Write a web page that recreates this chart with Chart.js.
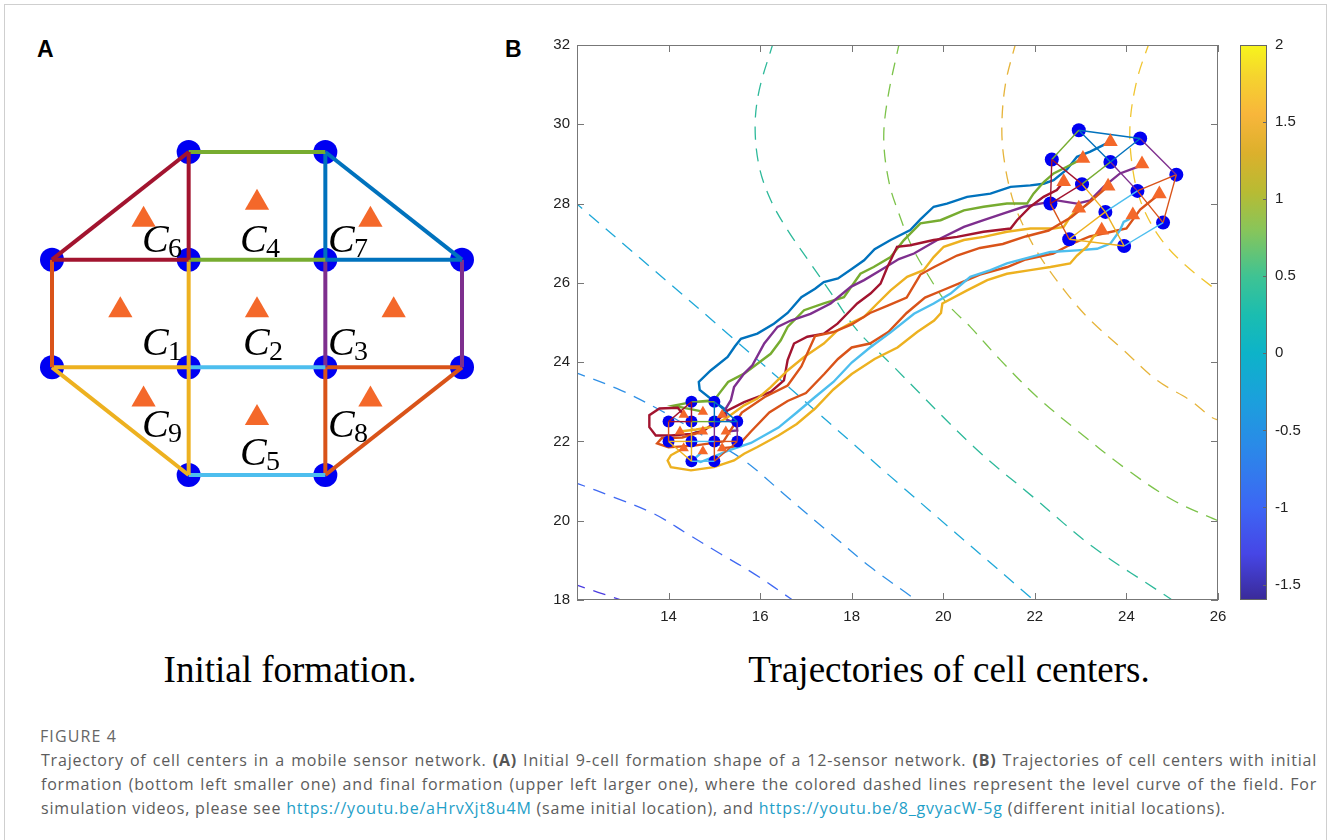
<!DOCTYPE html>
<html>
<head>
<meta charset="utf-8">
<script src="https://cdn.jsdelivr.net/npm/chart.js@4.4.1/dist/chart.umd.min.js"></script>
<style>
  body { margin: 0; background: #fff; width: 1328px; height: 840px; overflow: hidden; position: relative; font-family: 'Liberation Sans', Arial, sans-serif; }
  .frame { position: absolute; left: 4px; top: 4px; width: 1323px; height: 900px; border: 1px solid #cfcfcf; box-sizing: border-box; }
  .tag { position: absolute; font: bold 23px 'Liberation Sans', Arial, sans-serif; color: #000; line-height: 1; }
  .box { position: absolute; }
  .sub { position: absolute; font: 37px 'Liberation Serif', 'Times New Roman', serif; color: #000; line-height: 1; white-space: nowrap; transform: translateX(-50%); }
  #figno { position: absolute; left: 40px; top: 726px; font: 16px 'Open Sans', sans-serif; line-height: 20px; color: #666; letter-spacing: 1.1px; }
  #caption { position: absolute; left: 41px; top: 748px; width: 1276px; font: 16px 'Open Sans', sans-serif; line-height: 24px; color: #5c5c5c; letter-spacing: 0.8px; }
  #caption .ln { white-space: nowrap; }
  #caption .just { text-align: justify; text-align-last: justify; }
  #caption b { font-weight: 700; color: #555; }
  #caption a { color: #1fa0c8; text-decoration: none; }
</style>
</head>
<body>
<div class="frame"></div>
<div class="tag" style="left:37px;top:38px">A</div>
<div class="tag" style="left:505px;top:38px">B</div>

<div class="box" style="left:11px;top:109px;width:492px;height:409px"><canvas id="formation" width="492" height="409"></canvas></div>
<div class="box" style="left:520px;top:35px;width:712px;height:600px"><canvas id="paths" width="712" height="600"></canvas></div>
<div class="box" style="left:1230px;top:35px;width:90px;height:575px"><canvas id="cbar" width="90" height="575"></canvas></div>

<div class="sub" style="left:290px;top:651px">Initial formation.</div>
<div class="sub" style="left:949px;top:651px">Trajectories of cell centers.</div>

<div id="figno">FIGURE 4</div>
<div id="caption">
  <div class="ln just">Trajectory of cell centers in a mobile sensor network. <b>(A)</b> Initial 9-cell formation shape of a 12-sensor network. <b>(B)</b> Trajectories of cell centers with initial</div>
  <div class="ln just">formation (bottom left smaller one) and final formation (upper left larger one), where the colored dashed lines represent the level curve of the field. For</div>
  <div class="ln">simulation videos, please see <a>https://youtu.be/aHrvXjt8u4M</a> (same initial location), and <a>https://youtu.be/8_gvyacW-5g</a> (different initial locations).</div>
</div>

<script>
// ---------- panel A (grid units) ----------
const gridNodes = [[1,3],[2,3],[0,2],[1,2],[2,2],[3,2],[0,1],[1,1],[2,1],[3,1],[1,0],[2,0]];
const gridCenters = [[0.5,1.53],[1.5,1.53],[2.5,1.53],[1.5,2.53],[1.5,0.53],[0.67,2.37],[2.33,2.37],[2.33,0.7],[0.67,0.7]];
const cellNumbers = ['1','2','3','4','5','6','7','8','9'];
const gridLabelAt = [[0.658,1.114],[1.397,1.114],[2.02,1.114],[1.375,2.07],[1.375,0.093],[0.658,2.07],[2.02,2.07],[2.02,0.356],[0.658,0.356]];

// sensor links (node indexes), grouped by the colour they are drawn in
const linksRed = [[2,0],[0,3],[3,2]];
const linksGreen = [[0,1],[3,4]];
const linksBlue = [[1,5],[5,4],[4,1]];
const linksOrangeL = [[2,6]];
const linksYellow = [[6,7],[6,10],[3,7],[7,10]];
const linksCyan = [[7,8],[10,11]];
const linksPurple = [[4,8],[5,9]];
const linksOrangeR = [[8,9],[9,11],[8,11]];

// ---------- panel B (field units) ----------
const startNodes = [[14.5,23.0],[15.0,23.0],[14.0,22.5],[14.5,22.5],[15.0,22.5],[15.5,22.5],[14.0,22.0],[14.5,22.0],[15.0,22.0],[15.5,22.0],[14.5,21.5],[15.0,21.5]];
const finalNodes = [[22.37,29.11],[22.96,29.85],[22.34,28.0],[23.03,28.49],[23.65,29.05],[24.3,29.64],[22.75,27.1],[23.54,27.79],[24.24,28.32],[25.09,28.73],[23.95,26.93],[24.8,27.52]];
const startCenters = [[14.25,22.25],[14.75,22.25],[15.25,22.25],[14.75,22.75],[14.75,21.75],[14.33,22.67],[15.17,22.67],[15.17,21.83],[14.33,21.83]];
const finalCenters = [[22.96,27.88],[23.6,28.44],[24.34,29.0],[23.05,29.14],[24.14,27.71],[22.63,28.55],[23.65,29.56],[24.72,28.24],[23.46,27.33]];

const pathC7 = [[15.17,22.67],[15.21,22.83],[14.95,23.05],[14.68,23.3],[14.66,23.5],[14.92,23.79],[15.29,24.13],[15.45,24.4],[15.58,24.59],[15.94,24.72],[16.3,24.97],[16.6,25.24],[16.9,25.64],[17.2,25.85],[17.39,26.02],[17.7,26.11],[18.0,26.35],[18.27,26.57],[18.5,26.85],[18.85,27.08],[19.28,27.33],[19.5,27.6],[19.79,27.92],[20.08,28.0],[20.52,28.17],[21.03,28.25],[21.47,28.42],[21.9,28.46],[22.19,28.5],[22.41,28.59],[22.7,28.86],[22.92,29.18],[23.21,29.31],[23.57,29.52]];
const pathC4 = [[14.75,22.75],[14.45,22.82],[14.1,22.9],[14.5,22.99],[15.0,23.04],[15.1,23.2],[15.3,23.5],[15.65,23.71],[15.94,23.96],[16.23,24.21],[16.45,24.55],[16.6,24.89],[16.96,25.31],[17.39,25.48],[17.83,25.64],[18.19,26.23],[18.48,26.4],[18.85,26.65],[19.14,27.08],[19.5,27.5],[19.94,27.58],[20.45,27.83],[20.88,27.92],[21.39,28.0],[21.83,28.0],[21.97,28.25],[22.2,28.55],[22.41,28.76],[22.7,28.93],[23.05,29.14]];
const pathC3 = [[15.25,22.25],[15.5,22.28],[15.48,22.45],[15.27,22.55],[15.25,22.83],[15.36,23.04],[15.43,23.37],[15.65,23.71],[15.83,23.92],[16.09,24.47],[16.38,24.89],[16.67,25.05],[17.1,25.22],[17.54,25.48],[17.98,25.9],[18.27,26.07],[18.63,26.32],[19.03,26.6],[19.36,26.74],[19.87,27.08],[20.45,27.41],[20.88,27.58],[21.32,27.75],[21.76,27.92],[22.12,28.0],[22.48,28.08],[22.92,28.0],[23.21,28.08],[23.5,28.42],[23.86,28.76],[24.26,28.93]];
const pathC6 = [[14.33,22.67],[14.2,22.85],[13.8,22.83],[13.58,22.66],[13.58,22.36],[13.72,22.15],[14.05,22.15],[14.49,22.19],[14.78,22.28],[15.07,22.53],[15.29,22.78],[15.65,22.99],[15.94,23.12],[16.23,23.25],[16.52,23.54],[16.6,24.05],[16.74,24.47],[17.03,24.64],[17.39,24.72],[17.69,24.97],[17.9,25.22],[18.12,25.48],[18.41,25.73],[18.63,25.98],[18.78,26.4],[18.99,26.91],[19.28,26.95],[19.79,27.08],[20.3,27.16],[20.88,27.29],[21.47,27.37],[21.61,27.58],[21.9,27.92],[22.19,28.17],[22.48,28.34],[22.63,28.55]];
const pathC1 = [[14.25,22.25],[14.6,22.3],[14.92,22.36],[15.29,22.61],[15.65,22.91],[15.94,23.08],[16.23,23.37],[16.6,23.79],[16.96,24.13],[17.39,24.47],[17.69,24.8],[18.0,25.0],[18.27,25.14],[18.56,25.48],[18.85,25.81],[19.21,26.15],[19.57,26.32],[19.79,26.65],[20.01,26.91],[20.45,27.08],[20.88,27.16],[21.39,27.29],[21.9,27.37],[22.41,27.37],[22.63,27.41],[22.77,27.66],[22.96,27.88]];
const pathC2 = [[14.75,22.25],[14.3,22.1],[13.85,22.08],[13.75,21.95],[14.0,21.85],[14.6,21.9],[15.2,22.0],[15.6,22.73],[16.1,23.12],[16.6,23.41],[16.9,23.89],[17.2,24.66],[17.6,24.76],[18.0,24.95],[18.4,25.24],[18.8,25.43],[19.2,25.63],[19.5,26.21],[19.8,26.4],[20.3,26.69],[20.8,26.88],[21.3,26.98],[21.8,27.17],[22.3,27.32],[22.8,27.66],[23.2,28.04],[23.6,28.44]];
const pathC8 = [[15.17,21.83],[15.5,21.87],[15.8,22.25],[16.2,22.73],[16.6,23.02],[17.0,23.22],[17.4,23.7],[17.7,24.08],[18.0,24.37],[18.4,24.47],[18.8,24.76],[19.2,25.24],[19.6,25.63],[20.0,25.82],[20.4,26.01],[20.8,26.21],[21.4,26.4],[21.8,26.59],[22.4,26.74],[22.8,26.98],[23.2,27.17],[23.6,27.27],[24.0,27.37],[24.3,27.85],[24.72,28.24]];
const pathC5 = [[14.75,21.75],[14.55,21.55],[14.7,21.48],[14.9,21.57],[15.3,21.77],[15.8,21.96],[16.4,22.35],[16.8,22.73],[17.2,23.12],[17.6,23.5],[18.0,23.99],[18.4,24.37],[18.85,24.75],[19.36,25.22],[19.79,25.48],[20.16,25.73],[20.59,26.15],[21.03,26.32],[21.39,26.49],[21.9,26.65],[22.34,26.78],[22.92,26.82],[23.36,26.86],[23.65,26.99],[23.86,27.33],[23.94,27.54],[24.08,27.62]];
const pathC9 = [[14.33,21.83],[14.05,21.65],[13.98,21.52],[14.05,21.35],[14.49,21.27],[14.99,21.35],[15.43,21.52],[15.65,21.69],[15.94,21.86],[16.4,22.15],[16.8,22.44],[17.2,22.83],[17.6,23.31],[18.0,23.7],[18.5,24.08],[19.0,24.37],[19.43,24.76],[19.8,25.05],[19.95,25.24],[19.98,25.48],[20.52,25.81],[20.96,26.07],[21.39,26.23],[21.9,26.32],[22.34,26.4],[22.77,26.49],[22.92,26.69],[23.14,26.91],[23.28,27.16],[23.46,27.33]];

// level curves of the field, one per contour level
const contourLevels = [-1.5, -1, -0.5, 0, 0.5, 1, 1.5, 2];
const levelM15 = [[11.9,18.42],[12.03,18.36],[12.89,18.03],[13.0,17.98]];
const levelM10 = [[11.9,20.97],[12.03,20.93],[12.81,20.59],[13.69,20.17],[14.41,19.67],[15.14,19.16],[15.87,18.66],[16.67,18.03],[16.72,17.98]];
const levelM05 = [[11.9,23.76],[12.03,23.71],[12.96,23.29],[13.83,22.78],[14.75,22.15],[15.65,21.52],[16.6,20.59],[17.54,19.67],[18.41,18.83],[19.32,18.07],[19.4,17.98]];
const level00 = [[11.9,28.1],[12.03,27.96],[15.21,24.8],[19.02,20.94],[21.9,18.07],[21.98,17.98]];
const level05 = [[16.3,32.1],[16.27,32.0],[15.98,30.86],[15.89,29.94],[15.98,28.93],[16.23,28.09],[16.6,27.33],[17.1,26.49],[17.61,25.64],[18.12,24.8],[18.85,23.96],[20.67,21.86],[21.97,20.59],[23.28,19.33],[24.96,18.03],[25.0,17.98]];
const level10 = [[19.06,32.1],[19.03,32.0],[18.78,30.61],[18.7,29.6],[18.82,28.51],[19.03,27.75],[19.3,26.95],[19.65,26.23],[20.08,25.48],[20.59,24.89],[21.25,24.05],[22.05,23.12],[22.92,22.28],[23.94,21.35],[25.03,20.51],[26.1,19.95]];
const level15 = [[21.6,32.1],[21.57,32.0],[21.36,31.03],[21.28,30.02],[21.32,29.18],[21.5,28.17],[21.76,27.41],[22.12,26.65],[22.7,25.73],[23.21,25.06],[23.94,24.3],[24.67,23.54],[25.39,23.04],[25.86,22.61],[26.1,22.5]];
const level20 = [[24.52,32.1],[24.48,32.0],[24.23,31.12],[24.08,30.02],[24.12,29.01],[24.3,28.09],[24.67,27.24],[25.17,26.57],[25.97,25.81],[26.1,25.7]];

const xTickValues = [14, 16, 18, 20, 22, 24, 26];
const yTickValues = [18, 20, 22, 24, 26, 28, 30, 32];
const colorbarTicks = [-1.5, -1, -0.5, 0, 0.5, 1, 1.5, 2];
// colormap sampled from the colour bar (field value, colour)
const colorbarStops = [[-1.6,'#3a2a98'],[-1.3,'#4646e6'],[-1.0,'#3d66f4'],[-0.6,'#2a8ae8'],[-0.3,'#1ba0dc'],[0,'#0db3c9'],[0.25,'#1bbdb0'],[0.5,'#3fc393'],[0.8,'#88c55a'],[1.05,'#b8bb33'],[1.3,'#dcb02c'],[1.55,'#f8b63b'],[1.8,'#f5d42e'],[2.0,'#f7f51c']];

// ---------- styles ----------
const linkColor = { red: '#A2142F', green: '#77AC30', blue: '#0072BD', orangeL: '#D95319', yellow: '#EDB120', cyan: '#4DBEEE', purple: '#7E2F8E', orangeR: '#D95319' };
const linkGroups = { red: linksRed, green: linksGreen, blue: linksBlue, orangeL: linksOrangeL, yellow: linksYellow, cyan: linksCyan, purple: linksPurple, orangeR: linksOrangeR };
const levelColor = ['#4a3ce0', '#3f68f2', '#2f90e6', '#1fa8d8', '#2db99a', '#7cc34a', '#e6b43a', '#f0c52f'];
const levelCurves = [levelM15, levelM10, levelM05, level00, level05, level10, level15, level20];
const paths = [
  [pathC9, '#EDB120'], [pathC5, '#4DBEEE'], [pathC8, '#D95319'], [pathC2, '#D95319'],
  [pathC1, '#EDB120'], [pathC6, '#A2142F'], [pathC3, '#7E2F8E'], [pathC4, '#77AC30'], [pathC7, '#0072BD'],
];
const dotBlue = '#0000f2';
const triOrange = '#f4682a';

Chart.defaults.font.family = "'Liberation Sans', Arial, sans-serif";
Chart.defaults.color = '#222';

const pts = arr => arr.map(([x, y]) => ({ x, y }));

function linkSets(nodes, width, order) {
  const out = [];
  for (const [key, pairs] of Object.entries(linkGroups)) {
    pairs.forEach(([a, b]) => out.push({
      data: pts([nodes[a], nodes[b]]), showLine: true, borderColor: linkColor[key],
      borderWidth: width, pointRadius: 0, order,
    }));
  }
  return out;
}

function markerSet(list, style, radius, color, order) {
  return { data: pts(list), showLine: false, pointStyle: style, pointRadius: radius,
    backgroundColor: color, borderWidth: 0, order, clip: false };
}

// the vertical scales must not ask the layout for extra room
const noPad = s => { s.paddingTop = 0; s.paddingBottom = 0; s.paddingLeft = 0; s.paddingRight = 0; };

// box round the plot with MATLAB style inward ticks
const boxTicks = {
  id: 'boxTicks',
  afterDraw(chart, args, o) {
    const { ctx, chartArea: a, scales } = chart;
    ctx.save();
    ctx.strokeStyle = o.color;
    ctx.lineWidth = 1;
    ctx.strokeRect(a.left + 0.5, a.top + 0.5, a.width - 1, a.height - 1);
    ctx.beginPath();
    if (o.xTicks) scales.x.ticks.forEach(t => {
      const p = Math.round(scales.x.getPixelForValue(t.value)) + 0.5;
      ctx.moveTo(p, a.bottom); ctx.lineTo(p, a.bottom - o.len);
      ctx.moveTo(p, a.top); ctx.lineTo(p, a.top + o.len);
    });
    scales.y.ticks.forEach(t => {
      const p = Math.round(scales.y.getPixelForValue(t.value)) + 0.5;
      if (o.yLeft) { ctx.moveTo(a.left, p); ctx.lineTo(a.left + o.len, p); }
      if (o.yRight) { ctx.moveTo(a.right, p); ctx.lineTo(a.right - o.len, p); }
    });
    ctx.stroke();
    ctx.restore();
  }
};

// C_k labels of panel A
const cellLabels = {
  id: 'cellLabels',
  afterDatasetsDraw(chart) {
    const { ctx, scales } = chart;
    ctx.save();
    ctx.fillStyle = '#000';
    ctx.textBaseline = 'alphabetic';
    gridLabelAt.forEach(([gx, gy], i) => {
      const px = scales.x.getPixelForValue(gx);
      const py = scales.y.getPixelForValue(gy);
      ctx.font = "italic 40px 'Liberation Serif', serif";
      ctx.fillText('C', px, py);
      ctx.font = "28px 'Liberation Serif', serif";
      ctx.fillText(cellNumbers[i], px + 26, py + 5);
    });
    ctx.restore();
  }
};

// parula-like gradient of the colour bar
const barFill = {
  id: 'barFill',
  beforeDatasetsDraw(chart) {
    const { ctx, chartArea: a, scales } = chart;
    const g = ctx.createLinearGradient(0, a.bottom, 0, a.top);
    const span = a.bottom - a.top;
    colorbarStops.forEach(([v, c]) => {
      const t = (a.bottom - scales.y.getPixelForValue(v)) / span;
      g.addColorStop(Math.min(1, Math.max(0, t)), c);
    });
    ctx.save();
    ctx.fillStyle = g;
    ctx.fillRect(a.left, a.top, a.width, a.height);
    ctx.restore();
  }
};

const quiet = { legend: { display: false }, tooltip: { enabled: false } };

// ---------- panel A ----------
new Chart(document.getElementById('formation'), {
  type: 'scatter',
  data: {
    datasets: [
      markerSet(gridCenters, 'triangle', 14, triOrange, 1),
      ...linkSets(gridNodes, 4, 2),
      markerSet(gridNodes, 'circle', 12, dotBlue, 3),
    ],
  },
  options: {
    responsive: false, animation: false, events: [],
    layout: { padding: 0, autoPadding: false },
    plugins: quiet,
    scales: {
      x: { type: 'linear', display: false, min: -0.3, max: 3.3 },
      y: { type: 'linear', display: false, min: -0.4, max: 3.4 },
    },
  },
  plugins: [cellLabels],
});

// ---------- panel B ----------
const contourSets = levelCurves.map((c, i) => ({
  data: pts(c), showLine: true, borderColor: levelColor[i], borderWidth: 1.3,
  borderDash: [13, 9], pointRadius: 0, tension: 0.35, order: 20, clip: 0,
}));
const pathSets = paths.map(([p, col], i) => ({
  data: pts(p), showLine: true, borderColor: col, borderWidth: 2.4,
  pointRadius: 0, order: 10 + i,
}));

new Chart(document.getElementById('paths'), {
  type: 'scatter',
  data: {
    datasets: [
      markerSet(startCenters, 'triangle', 6, triOrange, 1),
      markerSet(finalCenters, 'triangle', 8.5, triOrange, 1),
      ...linkSets(startNodes, 1.4, 2),
      ...linkSets(finalNodes, 1.4, 2),
      markerSet(startNodes, 'circle', 6, dotBlue, 3),
      markerSet(finalNodes, 'circle', 7, dotBlue, 3),
      ...pathSets,
      ...contourSets,
    ],
  },
  options: {
    responsive: false, animation: false, events: [],
    layout: { padding: { top: 10, right: 14, left: 0, bottom: 0 }, autoPadding: false },
    plugins: { ...quiet, boxTicks: { color: '#777', len: 7, xTicks: true, yLeft: true, yRight: true } },
    scales: {
      x: {
        type: 'linear', min: 12, max: 26,
        afterBuildTicks: s => { s.ticks = xTickValues.map(value => ({ value })); },
        afterFit: s => { s.height = 35; noPad(s); },
        grid: { display: false, drawTicks: false }, border: { display: false },
        ticks: { padding: 8, font: { size: 15 }, color: '#222' },
      },
      y: {
        type: 'linear', min: 18, max: 32,
        afterBuildTicks: s => { s.ticks = yTickValues.map(value => ({ value })); },
        afterFit: s => { s.width = 57; noPad(s); },
        grid: { display: false, drawTicks: false }, border: { display: false },
        ticks: { padding: 7, font: { size: 15 }, color: '#222' },
      },
    },
  },
  plugins: [boxTicks],
});

// ---------- colour bar ----------
new Chart(document.getElementById('cbar'), {
  type: 'scatter',
  data: { datasets: [] },
  options: {
    responsive: false, animation: false, events: [],
    layout: { padding: { top: 10, left: 10, bottom: 10, right: 0 }, autoPadding: false },
    plugins: { ...quiet, boxTicks: { color: '#666', len: 4, xTicks: false, yLeft: false, yRight: true } },
    scales: {
      x: { type: 'linear', display: false, min: 0, max: 1 },
      y: {
        type: 'linear', position: 'right', min: -1.6, max: 2,
        afterBuildTicks: s => { s.ticks = colorbarTicks.map(value => ({ value })); },
        afterFit: s => { s.width = 53; noPad(s); },
        grid: { display: false, drawTicks: false }, border: { display: false },
        ticks: { padding: 8, font: { size: 15 }, color: '#222', callback: v => String(v) },
      },
    },
  },
  plugins: [barFill, boxTicks],
});
</script>
</body>
</html>
